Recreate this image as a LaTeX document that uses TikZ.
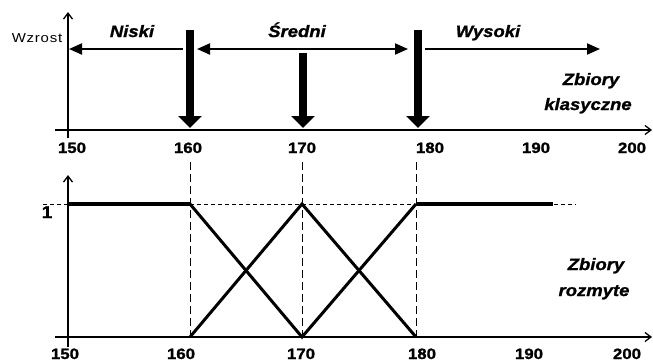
\documentclass[tikz,border=0pt]{standalone}
\usepackage{fontspec}
\setmainfont{Liberation Sans}
\newfontfamily\lab[FakeStretch=1.15,LetterSpace=6]{Liberation Sans}
\newfontfamily\labb[FakeStretch=1.12,FakeBold=1.2]{Liberation Sans}
\usetikzlibrary{arrows.meta}
\begin{document}
\begin{tikzpicture}[x=1pt,y=-1pt,
  axis/.style={line width=1.8pt,-{Straight Barb[length=6pt,width=9pt,line width=1.3pt]}},
  harrow/.style={line width=2pt,-{Triangle[length=13pt,width=11pt]}},
  darrow/.style={line width=2pt,{Triangle[length=13pt,width=11pt]}-{Triangle[length=13pt,width=11pt]}},
  bigarrow/.style={line width=7.5pt,-{Triangle[length=12pt,width=23pt]}},
  setlbl/.style={font=\labb\bfseries\itshape\fontsize{16.5}{18}\selectfont,inner sep=0pt,anchor=base},
  ticklbl/.style={font=\labb\bfseries\fontsize{15}{17}\selectfont,inner sep=0pt,anchor=base},
  smalllbl/.style={font=\lab\fontsize{13}{15}\selectfont,inner sep=0pt,anchor=base},
  guide/.style={line width=0.9pt,dash pattern=on 8pt off 4pt},
  lvl/.style={line width=0.8pt,dash pattern=on 3.5pt off 3.5pt},
  mf/.style={line width=3pt},
  mfthick/.style={line width=3.8pt}
]
\useasboundingbox (0,0) rectangle (653,362);
% ---------- top panel ----------
\coordinate (tx0) at (55,130); \coordinate (tx1) at (652,130);
\coordinate (ty0) at (68,138); \coordinate (ty1) at (68,12);
\draw[axis] (tx0) -- (tx1);
\draw[axis] (ty0) -- (ty1);
\node[smalllbl] (wzrost) at (37,42) {Wzrost};
\node[setlbl] (niski) at (132,37) {Niski};
\node[setlbl] (sredni) at (297,37) {Średni};
\node[setlbl] (wysoki) at (488,37) {Wysoki};
\node[setlbl] (zk1) at (591,85) {Zbiory};
\node[setlbl] (zk2) at (588,110) {klasyczne};
\coordinate (n0) at (183,49); \coordinate (n1) at (69,49);
\coordinate (s0) at (197,49); \coordinate (s1) at (408,49);
\coordinate (w0) at (425,49); \coordinate (w1) at (600,49);
\draw[harrow] (n0) -- (n1);
\draw[darrow] (s0) -- (s1);
\draw[harrow] (w0) -- (w1);
\coordinate (a160) at (190,30); \coordinate (b160) at (190,128);
\coordinate (a170) at (303,53); \coordinate (b170) at (303,128);
\coordinate (a180) at (418,30); \coordinate (b180) at (418,128);
\draw[bigarrow] (a160) -- (b160);
\draw[bigarrow] (a170) -- (b170);
\draw[bigarrow] (a180) -- (b180);
\node[ticklbl] (t150) at (72,153) {150};
\node[ticklbl] (t160) at (188,153) {160};
\node[ticklbl] (t170) at (302,153) {170};
\node[ticklbl] (t180) at (430,153) {180};
\node[ticklbl] (t190) at (536,153) {190};
\node[ticklbl] (t200) at (632,153) {200};
% ---------- bottom panel ----------
\coordinate (bx0) at (55,337); \coordinate (bx1) at (652,337);
\coordinate (by0) at (68,347); \coordinate (by1) at (68,175);
\coordinate (l0) at (43,204); \coordinate (l1) at (576,204);
\draw[lvl] (l0) -- (l1);
\coordinate (g160t) at (190,162); \coordinate (g160b) at (190,337);
\coordinate (g170t) at (302,162); \coordinate (g170b) at (302,337);
\coordinate (g180t) at (416,162); \coordinate (g180b) at (416,337);
\draw[guide] (g160t) -- (g160b);
\draw[guide] (g170t) -- (g170b);
\draw[guide] (g180t) -- (g180b);
\coordinate (p0) at (68,204);
\coordinate (p160u) at (190,204); \coordinate (p160d) at (190,337);
\coordinate (p170u) at (302,204); \coordinate (p170d) at (302,337);
\coordinate (p180u) at (416,204); \coordinate (p180d) at (416,337);
\coordinate (pend) at (553,204);
\draw[mfthick] (p0) -- (p160u);
\draw[mf] (p160u) -- (p170d) -- (p180u);
\draw[mf] (p160d) -- (p170u) -- (p180d);
\draw[mfthick] (p180u) -- (pend);
\draw[axis] (bx0) -- (bx1);
\draw[axis] (by0) -- (by1);
\node[ticklbl,font=\labb\bfseries\fontsize{17}{19}\selectfont] (one) at (47,218) {1};
\node[setlbl] (zr1) at (596,270) {Zbiory};
\node[setlbl] (zr2) at (594,296) {rozmyte};
\node[ticklbl] (u150) at (65,359) {150};
\node[ticklbl] (u160) at (181,359) {160};
\node[ticklbl] (u170) at (301,359) {170};
\node[ticklbl] (u180) at (422,359) {180};
\node[ticklbl] (u190) at (529,359) {190};
\node[ticklbl] (u200) at (627,359) {200};
\end{tikzpicture}
\end{document}
